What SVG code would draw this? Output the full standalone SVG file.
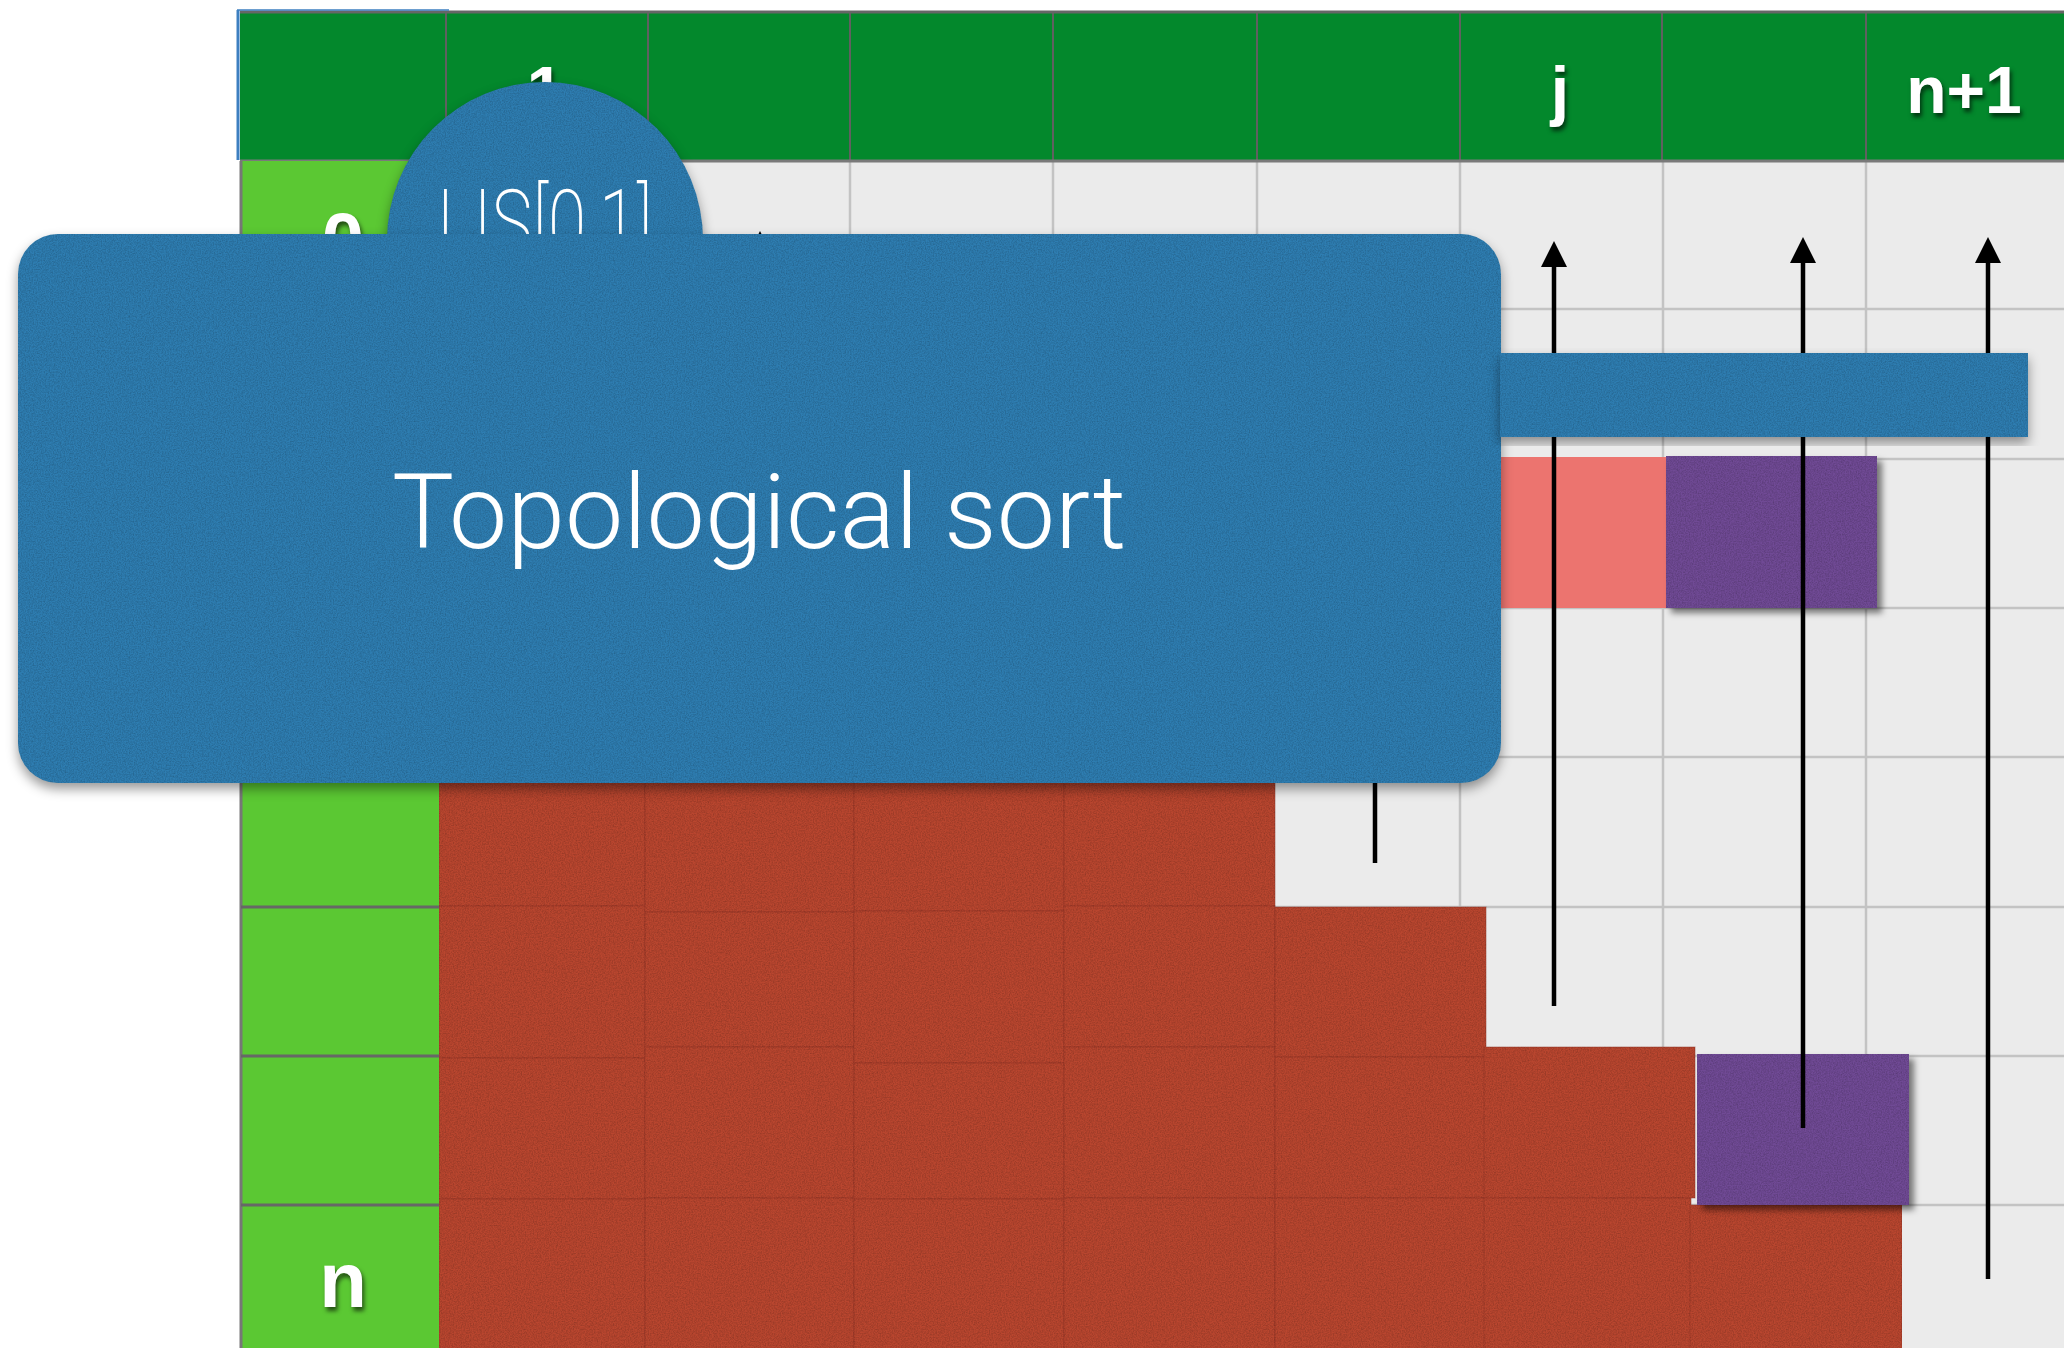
<svg xmlns="http://www.w3.org/2000/svg" width="2064" height="1348" viewBox="0 0 2064 1348">
  <style>
    .hdr { fill: #03882C; }
    .hdrline { stroke: #606060; stroke-width: 2; }
    .gridline { stroke: #C3C3C3; stroke-width: 2.5; }
    .rowsep { stroke: #676767; stroke-width: 3; }
    .lbl { font-family: "Liberation Sans", Arial, sans-serif; font-weight: bold; fill: #FFFFFF; text-anchor: middle; }
    .thin { font-family: Roboto, "Open Sans", Lato, "Liberation Sans", sans-serif; fill: #FFFFFF; text-anchor: middle; }
    .blue { fill: #2E7DB1; }
    .red { fill: #B9462F; stroke: #8E3323; stroke-width: 1; stroke-opacity: 0.45; }
    .purple { fill: #704A95; }
    .salmon { fill: #EC746F; }
    .arrow { stroke: #000000; stroke-width: 4.5; fill: none; marker-end: url(#head); }
  </style>
  <defs>
    <marker id="head" viewBox="0 0 26 26" refX="0" refY="13" markerWidth="26" markerHeight="26" markerUnits="userSpaceOnUse" orient="auto">
      <path d="M0,0 L26,13 L0,26 z" fill="#000000"/>
    </marker>
    <filter id="paper" x="0" y="0" width="100%" height="100%" color-interpolation-filters="sRGB">
      <feTurbulence type="fractalNoise" baseFrequency="0.75" numOctaves="3" seed="4" result="noise"/>
      <feColorMatrix in="noise" type="matrix" values="0 0 0 0 0  0 0 0 0 0  0 0 0 0 0  0.35 0 0 0 -0.12" result="dark"/>
      <feComposite in="dark" in2="SourceGraphic" operator="in" result="tex"/>
      <feMerge><feMergeNode in="SourceGraphic"/><feMergeNode in="tex"/></feMerge>
    </filter>
    <filter id="shadow" x="-5%" y="-5%" width="112%" height="115%" color-interpolation-filters="sRGB">
      <feDropShadow dx="0" dy="6" stdDeviation="6" flood-color="#000000" flood-opacity="0.4"/>
    </filter>
    <filter id="shadowR" x="-5%" y="-5%" width="115%" height="115%" color-interpolation-filters="sRGB">
      <feDropShadow dx="5" dy="5" stdDeviation="3" flood-color="#000000" flood-opacity="0.5"/>
    </filter>
    <filter id="tshadow" x="-20%" y="-20%" width="140%" height="140%" color-interpolation-filters="sRGB">
      <feDropShadow dx="2" dy="4" stdDeviation="2" flood-color="#000000" flood-opacity="0.6"/>
    </filter>
  </defs>

  <rect x="0" y="0" width="2064" height="1348" fill="#FFFFFF"/>

  <!-- table background / grid -->
  <g id="grid">
    <rect x="439" y="161" width="1630" height="1190" fill="#EBEBEB"/>
    <g class="gridline">
      <line x1="648" y1="161" x2="648" y2="1348"/>
      <line x1="850" y1="161" x2="850" y2="1348"/>
      <line x1="1053" y1="161" x2="1053" y2="1348"/>
      <line x1="1257" y1="161" x2="1257" y2="1348"/>
      <line x1="1460" y1="161" x2="1460" y2="1348"/>
      <line x1="1663" y1="161" x2="1663" y2="1348"/>
      <line x1="1866" y1="161" x2="1866" y2="1348"/>
      <line x1="439" y1="309" x2="2064" y2="309"/>
      <line x1="439" y1="459" x2="2064" y2="459"/>
      <line x1="439" y1="608" x2="2064" y2="608"/>
      <line x1="439" y1="757" x2="2064" y2="757"/>
      <line x1="439" y1="907" x2="2064" y2="907"/>
      <line x1="439" y1="1056" x2="2064" y2="1056"/>
      <line x1="439" y1="1205" x2="2064" y2="1205"/>
    </g>
  </g>

  <!-- header row -->
  <g id="header">
    <rect class="hdr" x="240" y="12" width="1830" height="149"/>
    <g class="hdrline">
      <line x1="446" y1="12" x2="446" y2="161"/>
      <line x1="648" y1="12" x2="648" y2="161"/>
      <line x1="850" y1="12" x2="850" y2="161"/>
      <line x1="1053" y1="12" x2="1053" y2="161"/>
      <line x1="1257" y1="12" x2="1257" y2="161"/>
      <line x1="1460" y1="12" x2="1460" y2="161"/>
      <line x1="1662" y1="12" x2="1662" y2="161"/>
      <line x1="1866" y1="12" x2="1866" y2="161"/>
    </g>
    <line x1="240" y1="12" x2="2064" y2="12" stroke="#666666" stroke-width="3"/>
    <line x1="240" y1="161" x2="2064" y2="161" stroke="#7A7A7A" stroke-width="3"/>
    <line x1="238" y1="10" x2="238" y2="160" stroke="#3D7FC0" stroke-width="3"/>
    <line x1="237" y1="10" x2="449" y2="10" stroke="#3D7FC0" stroke-width="1.5"/>
    <g filter="url(#tshadow)">
      <text class="lbl" x="545" y="113" font-size="66">1</text>
      <text class="lbl" x="1560" y="113" font-size="66">j</text>
      <text class="lbl" x="1964" y="113" font-size="66">n+1</text>
    </g>
  </g>

  <!-- left index column -->
  <g id="index-column">
    <rect x="241" y="161" width="198" height="1190" fill="#5BC833"/>
    <line x1="241" y1="161" x2="241" y2="1348" stroke="#777777" stroke-width="3"/>
    <g class="rowsep">
      <line x1="241" y1="309" x2="439" y2="309"/>
      <line x1="241" y1="459" x2="439" y2="459"/>
      <line x1="241" y1="608" x2="439" y2="608"/>
      <line x1="241" y1="757" x2="439" y2="757"/>
      <line x1="241" y1="907" x2="439" y2="907"/>
      <line x1="241" y1="1056" x2="439" y2="1056"/>
      <line x1="241" y1="1205" x2="439" y2="1205"/>
    </g>
    <g filter="url(#tshadow)">
      <text class="lbl" x="343" y="266" font-size="76">0</text>
      <text class="lbl" x="343" y="1307" font-size="78">n</text>
    </g>
  </g>

  <!-- red filled cells -->
  <g id="filled-cells" filter="url(#paper)">
    <rect class="red" x="439" y="757" width="206" height="149"/>
    <rect class="red" x="439" y="906" width="206" height="152"/>
    <rect class="red" x="439" y="1058" width="206" height="141"/>
    <rect class="red" x="439" y="1199" width="206" height="160"/>
    <rect class="red" x="645" y="757" width="209" height="155"/>
    <rect class="red" x="645" y="912" width="209" height="135"/>
    <rect class="red" x="645" y="1047" width="209" height="151"/>
    <rect class="red" x="645" y="1198" width="209" height="160"/>
    <rect class="red" x="854" y="757" width="210" height="154"/>
    <rect class="red" x="854" y="911" width="210" height="152"/>
    <rect class="red" x="854" y="1063" width="210" height="136"/>
    <rect class="red" x="854" y="1199" width="210" height="160"/>
    <rect class="red" x="1064" y="757" width="211" height="149"/>
    <rect class="red" x="1064" y="906" width="211" height="141"/>
    <rect class="red" x="1064" y="1047" width="211" height="151"/>
    <rect class="red" x="1064" y="1198" width="211" height="160"/>
    <rect class="red" x="1275" y="907" width="211" height="150"/>
    <rect class="red" x="1275" y="1057" width="211" height="141"/>
    <rect class="red" x="1275" y="1198" width="211" height="160"/>
    <rect class="red" x="1484" y="1047" width="211" height="151"/>
    <rect class="red" x="1484" y="1198" width="207" height="160"/>
    <rect class="red" x="1690" y="1205" width="212" height="155"/>
  </g>

  <g id="salmon-cell">
    <rect class="salmon" x="1490" y="457" width="176" height="151"/>
  </g>
  <g id="purple-cell-1" filter="url(#shadowR)">
    <rect class="purple" x="1666" y="456" width="211" height="152" filter="url(#paper)"/>
  </g>
  <g id="purple-cell-2" filter="url(#shadowR)">
    <rect class="purple" x="1697" y="1054" width="212" height="151" filter="url(#paper)"/>
  </g>

  <!-- connectors -->
  <g id="connectors">
    <line class="arrow" x1="760" y1="600" x2="760" y2="257"/>
    <line class="arrow" x1="1375" y1="863" x2="1375" y2="263"/>
    <line class="arrow" x1="1554" y1="1006" x2="1554" y2="267"/>
    <line class="arrow" x1="1803" y1="1128" x2="1803" y2="263"/>
    <line class="arrow" x1="1988" y1="1279" x2="1988" y2="263"/>
  </g>

  <g id="lis-circle">
    <g filter="url(#shadow)">
      <circle class="blue" cx="545" cy="240" r="158" filter="url(#paper)"/>
    </g>
    <text class="thin" x="545" y="254" font-size="90" font-weight="200" textLength="215" lengthAdjust="spacingAndGlyphs">LIS[0,1]</text>
  </g>

  <g id="topological-sort">
    <g filter="url(#shadow)">
      <rect class="blue" x="18" y="234" width="1483" height="549" rx="40" ry="40" filter="url(#paper)"/>
    </g>
    <text class="thin" x="759" y="548" font-size="104" font-weight="300">Topological sort</text>
  </g>

  <g id="bar">
    <g filter="url(#shadow)">
      <rect class="blue" x="1500" y="353" width="528" height="84" filter="url(#paper)"/>
    </g>
  </g>
</svg>
